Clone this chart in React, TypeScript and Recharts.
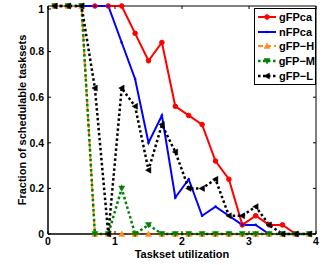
import { LineChart, Line, XAxis, YAxis, Legend, ReferenceArea } from 'recharts';

// utilization values (x) and fraction of schedulable tasksets per algorithm
const utilization = [0.1, 0.3, 0.5, 0.7, 0.9, 1.1, 1.3, 1.5, 1.7, 1.9, 2.1, 2.3, 2.5, 2.7, 2.9, 3.1, 3.3, 3.5, 3.7, 3.9];
const gFPca = [1, 1, 1, 1, 1, 1, 0.88, 0.76, 0.84, 0.56, 0.52, 0.48, 0.32, 0.24, 0.04, 0.08, 0.04, 0.04, 0, 0];
const nFPca = [1, 1, 1, 1, 1, 0.84, 0.68, 0.4, 0.52, 0.16, 0.24, 0.08, 0.12, 0.08, 0.04, 0.04, 0, 0, 0, 0];
const gFPH = [1, 1, 1, 0, 0, 0, 0, 0, 0, 0, 0, 0, 0, 0, 0, 0, 0, 0, 0, 0];
const gFPM = [1, 1, 1, 0, 0, 0.2, 0, 0.04, 0, 0, 0, 0, 0, 0, 0, 0, 0, 0, 0, 0];
const gFPL = [1, 1, 1, 0.64, 0, 0.64, 0.56, 0.28, 0.48, 0.36, 0.2, 0.2, 0.24, 0.08, 0.08, 0.12, 0.04, 0, 0, 0];

const xTicks = [0, 1, 2, 3, 4];
const yTicks = [0, 0.1, 0.2, 0.3, 0.4, 0.5, 0.6, 0.7, 0.8, 0.9, 1];

type Shape = 'circle' | 'dot' | 'up' | 'down' | 'left';

const series: { key: string; name: string; color: string; dash?: string; width: number; shape: Shape }[] = [
  { key: 'gFPca', name: 'gFPca', color: '#ff0000', width: 2, shape: 'circle' },
  { key: 'nFPca', name: 'nFPca', color: '#0000ff', width: 2, shape: 'dot' },
  { key: 'gFPH', name: 'gFP−H', color: '#ff8c1a', dash: '5 3', width: 2, shape: 'up' },
  { key: 'gFPM', name: 'gFP−M', color: '#008000', dash: '2.5 2.5', width: 2.5, shape: 'down' },
  { key: 'gFPL', name: 'gFP−L', color: '#000000', dash: '2.5 2.5', width: 2.5, shape: 'left' },
];

const data = utilization.map((u, i) => ({
  u,
  gFPca: gFPca[i],
  nFPca: nFPca[i],
  gFPH: gFPH[i],
  gFPM: gFPM[i],
  gFPL: gFPL[i],
}));

const FONT = '"Liberation Sans", Arial, sans-serif';
const PLOT_TOP = 6;
const PLOT_LEFT = 48;
const PLOT_RIGHT = 316;
const PLOT_BOTTOM = 234;

function Marker({ cx, cy, shape, color }: { cx: number; cy: number; shape: Shape; color: string }) {
  if (cx == null || cy == null) return null;
  const s = 3;
  if (shape === 'circle') return <circle cx={cx} cy={cy} r={2.3} fill={color} stroke={color} />;
  if (shape === 'dot') return <circle cx={cx} cy={cy} r={1.3} fill={color} />;
  let pts = '';
  if (shape === 'up') pts = `${cx},${cy - s} ${cx - s},${cy + s * 0.8} ${cx + s},${cy + s * 0.8}`;
  if (shape === 'down') pts = `${cx},${cy + s} ${cx - s},${cy - s * 0.8} ${cx + s},${cy - s * 0.8}`;
  if (shape === 'left') pts = `${cx - s},${cy} ${cx + s * 0.8},${cy - s} ${cx + s * 0.8},${cy + s}`;
  return <polygon points={pts} fill={color} stroke={color} strokeWidth={0.5} />;
}

function XTick(props: any) {
  const { x, y, payload } = props;
  return (
    <g>
      <line x1={x} y1={y} x2={x} y2={y - 3} stroke="#000" />
      <line x1={x} y1={PLOT_TOP} x2={x} y2={PLOT_TOP + 3} stroke="#000" />
      <text x={x} y={y + 11} textAnchor="middle" fontSize={10.5} fontWeight="bold" fontFamily={FONT} fill="#000">
        {payload.value}
      </text>
    </g>
  );
}

function YTick(props: any) {
  const { x, y, payload } = props;
  return (
    <g>
      <line x1={x} y1={y} x2={x + 3} y2={y} stroke="#000" />
      <line x1={PLOT_RIGHT} y1={y} x2={PLOT_RIGHT - 3} y2={y} stroke="#000" />
      <text x={x - 4} y={y + 3.7} textAnchor="end" fontSize={10.5} fontWeight="bold" fontFamily={FONT} fill="#000">
        {payload.value}
      </text>
    </g>
  );
}

function LegendBox() {
  return (
    <div
      style={{
        border: '1px solid #000',
        background: '#fff',
        width: 60,
        padding: '1.5px 0',
        fontFamily: FONT,
        fontWeight: 'bold',
        fontSize: 11,
        lineHeight: '14px',
      }}
    >
      {series.map((s) => (
        <div key={s.key} style={{ display: 'flex', alignItems: 'center', height: 14.6 }}>
          <svg width={24} height={14} style={{ display: 'block' }}>
            <line x1={3} y1={7} x2={21} y2={7} stroke={s.color} strokeWidth={s.width} strokeDasharray={s.dash} />
            <Marker cx={12} cy={7} shape={s.shape} color={s.color} />
          </svg>
          <span>{s.name}</span>
        </div>
      ))}
    </div>
  );
}

export default function App() {
  return (
    <div style={{ position: 'absolute', left: 0, top: 0 }}>
      <LineChart width={334} height={265} data={data} margin={{ top: PLOT_TOP, right: 334 - PLOT_RIGHT, left: 0, bottom: 0 }}>
        <ReferenceArea x1={0} x2={4} y1={0} y2={1} fill="none" stroke="#000" strokeWidth={1} ifOverflow="visible" />
        <XAxis
          dataKey="u"
          type="number"
          domain={[0, 4]}
          ticks={xTicks}
          height={265 - PLOT_BOTTOM}
          tickSize={0}
          tickMargin={0}
          tickLine={false}
          axisLine={{ stroke: '#000' }}
          tick={<XTick />}
          label={{
            value: 'Taskset utilization',
            position: 'insideBottom',
            offset: 7,
            style: { fontFamily: FONT, fontWeight: 'bold', fontSize: 11, fill: '#000' },
          }}
        />
        <YAxis
          type="number"
          domain={[0, 1]}
          ticks={yTicks}
          width={PLOT_LEFT}
          tickSize={0}
          tickMargin={0}
          tickLine={false}
          axisLine={{ stroke: '#000' }}
          tick={<YTick />}
          label={{
            value: 'Fraction of schedulable tasksets',
            angle: -90,
            position: 'insideLeft',
            content: (p: any) => {
              const vb = p.viewBox;
              const cx = vb.x + 22;
              const cy = vb.y + vb.height / 2;
              return (
                <text
                  x={cx}
                  y={cy}
                  transform={`rotate(-90 ${cx} ${cy})`}
                  textAnchor="middle"
                  dominantBaseline="central"
                  fontFamily={FONT}
                  fontWeight="bold"
                  fontSize={11}
                  fill="#000"
                >
                  Fraction of schedulable tasksets
                </text>
              );
            },
          }}
        />
        {series.map((s) => (
          <Line
            key={s.key}
            dataKey={s.key}
            name={s.name}
            type="linear"
            stroke={s.color}
            strokeWidth={s.width}
            strokeDasharray={s.dash}
            dot={(p: any) => <Marker key={`${s.key}-${p.index}`} cx={p.cx} cy={p.cy} shape={s.shape} color={s.color} />}
            activeDot={false}
            isAnimationActive={false}
          />
        ))}
        <Legend
          layout="vertical"
          align="center"
          verticalAlign="middle"
          content={() => <LegendBox />}
          wrapperStyle={{ position: 'absolute', left: 254, top: 7.5, width: 62, right: 'auto', bottom: 'auto' }}
        />
      </LineChart>
    </div>
  );
}
